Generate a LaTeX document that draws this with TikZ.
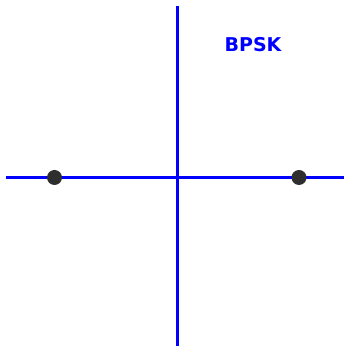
\documentclass[tikz,border=0pt]{standalone}
\usepackage{fontspec}
\setmainfont{DejaVu Sans}
\usepackage{xcolor}
\definecolor{axisblue}{HTML}{0000FF}
\definecolor{dotgray}{HTML}{2E2E2E}
\usepackage{tikz}
\usetikzlibrary{positioning}
\tikzset{
  axisline/.style={line width=2.6pt, color=axisblue},
  symbdot/.style ={circle, fill=dotgray, inner sep=0pt, minimum size=15pt},
  titlelbl/.style={font=\fontsize{19}{21}\selectfont\bfseries, text=axisblue, inner sep=0pt},
}
\begin{document}
\begin{tikzpicture}[x=1pt, y=1pt]
  \useasboundingbox (0,0) rectangle (344,347);
  % axes
  \coordinate (xl) at (6,169.5);
  \coordinate (xr) at (344,169.5);
  \coordinate (yb) at (177.5,1);
  \coordinate (yt) at (177.5,341);
  \draw[axisline] (xl) -- (xr);
  \draw[axisline] (yb) -- (yt);
  % constellation points
  \node[symbdot] (s0) at (54.5,169.5) {};
  \node[symbdot] (s1) at (299,169.5) {};
  % title
  \node[titlelbl] (title) at (253,302) {BPSK};
\end{tikzpicture}
\end{document}
